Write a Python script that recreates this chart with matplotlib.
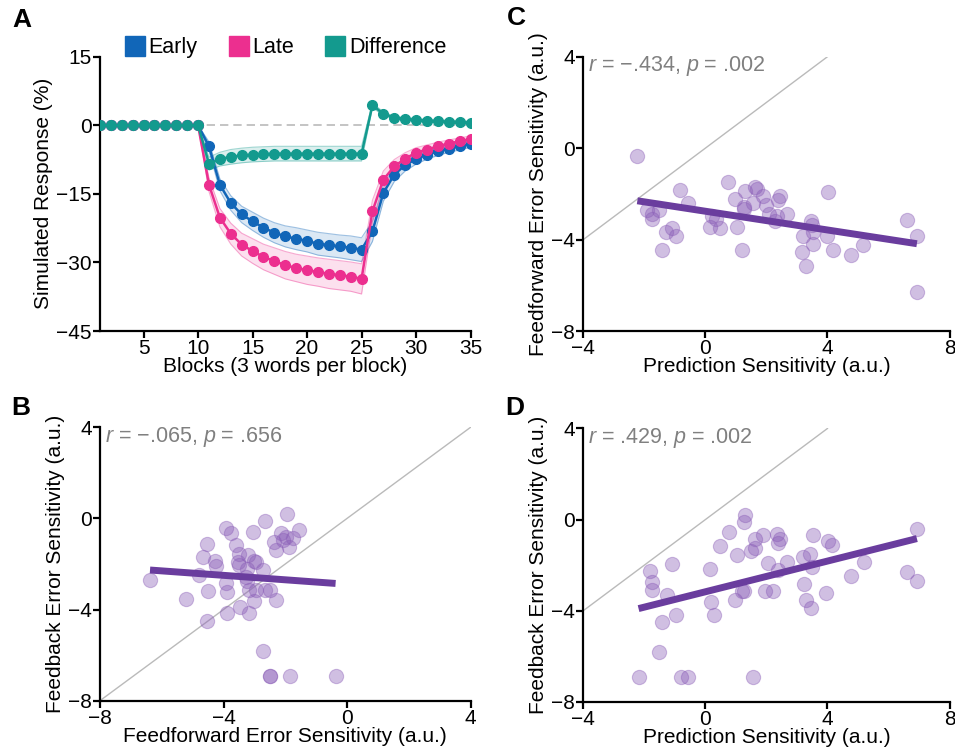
import numpy as np
import matplotlib
matplotlib.use('Agg')
import matplotlib.pyplot as plt
from matplotlib.lines import Line2D

plt.rcParams['font.family'] = ['Liberation Sans', 'DejaVu Sans']
plt.rcParams['mathtext.fontset'] = 'custom'
plt.rcParams['mathtext.rm'] = 'Liberation Sans'
plt.rcParams['mathtext.it'] = 'Liberation Sans:italic'
plt.rcParams['font.size'] = 15

# ---- panel A: simulated responses per block ----
blocks = np.arange(1, 36)
early = [0, 0, 0, 0, 0, 0, 0, 0, 0, 0,
         -4.6, -13.0, -17.0, -19.5, -21.0, -22.4, -23.5, -24.3, -24.8, -25.3,
         -25.9, -26.2, -26.5, -26.8, -27.2,
         -23.2, -14.8, -10.8, -8.7, -7.4, -6.4, -5.7, -5.1, -4.6, -4.1]
late = [0, 0, 0, 0, 0, 0, 0, 0, 0, 0,
        -13.0, -20.2, -23.7, -26.1, -27.5, -28.8, -29.7, -30.6, -31.2, -31.7,
        -32.1, -32.5, -32.8, -33.1, -33.6,
        -18.8, -11.9, -9.0, -7.3, -6.0, -5.3, -4.6, -4.0, -3.5, -3.0]
difference = [0, 0, 0, 0, 0, 0, 0, 0, 0, 0,
              -8.4, -7.4, -6.9, -6.6, -6.4, -6.3, -6.2, -6.2, -6.2, -6.2,
              -6.2, -6.2, -6.2, -6.2, -6.2,
              4.4, 2.5, 1.7, 1.4, 1.2, 1.0, 0.9, 0.8, 0.7, 0.6]
# half-width of the shaded bands
early_hw = [0, 0, 0, 0, 0, 0, 0, 0, 0, 0,
            1.0, 1.3, 1.6, 1.8, 2.0, 2.1, 2.2, 2.3, 2.4, 2.4,
            2.5, 2.5, 2.5, 2.6, 2.6,
            2.2, 1.8, 1.5, 1.3, 1.1, 1.0, 0.9, 0.8, 0.8, 0.7]
late_hw = [0, 0, 0, 0, 0, 0, 0, 0, 0, 0,
           1.5, 2.0, 2.3, 2.5, 2.7, 2.8, 2.9, 3.0, 3.0, 3.1,
           3.1, 3.2, 3.2, 3.2, 3.3,
           2.4, 1.9, 1.5, 1.3, 1.1, 1.0, 0.9, 0.8, 0.7, 0.7]
diff_hw = [0, 0, 0, 0, 0, 0, 0, 0, 0, 0,
           1.4, 1.5, 1.6, 1.6, 1.6, 1.6, 1.6, 1.6, 1.6, 1.6,
           1.6, 1.6, 1.6, 1.6, 1.6,
           0.5, 0.4, 0.3, 0.3, 0.3, 0.3, 0.3, 0.3, 0.3, 0.3]

# ---- panel B: feedforward vs feedback error sensitivity ----
ff_b = [-6.38, -5.23, -4.80, -4.65, -4.54, -4.51, -4.54, -4.29, -4.24, -3.91,
        -3.75, -3.91, -3.88, -3.88, -3.59, -3.50, -3.53, -3.50, -3.45, -3.21,
        -3.24, -3.24, -3.18, -3.16, -3.03, -3.00, -2.94, -3.00, -2.96, -2.72,
        -2.67, -2.64, -2.72, -2.51, -2.49, -2.49, -2.29, -2.31, -2.15, -2.08,
        -1.95, -1.97, -1.88, -1.75, -1.56, -1.86, -0.37, -2.35, -3.26]
fb_b = [-2.71, -3.54, -2.49, -1.68, -1.13, -3.19, -4.49, -1.86, -2.08, -0.41,
        -0.66, -2.83, -3.25, -4.17, -1.17, -1.54, -1.93, -2.05, -3.88, -1.61,
        -2.23, -2.74, -3.15, -4.14, -0.59, -1.86, -1.93, -3.62, -3.12, -2.27,
        -0.10, -3.15, -5.81, -6.93, -6.93, -3.15, -3.56, -1.39, -0.66, -0.95,
        0.19, -0.81, -1.24, -0.88, -0.51, -6.93, -6.93, -1.02, -2.56]
fit_b = (-0.098, -2.89)
stat_b = '$\\it{r}$ = \u2212.065, $\\it{p}$ = .656'

# ---- panel C: prediction vs feedforward error sensitivity ----
pred_c = [-2.23, -1.90, -1.76, -1.74, -1.52, -1.43, -1.30, -1.09, -0.96, -0.82,
          -0.57, 0.16, 0.22, 0.35, 0.49, 0.74, 0.98, 1.03, 1.20, 1.25,
          1.27, 1.30, 1.55, 1.63, 1.68, 1.90, 1.98, 2.07, 2.28, 2.34,
          2.39, 2.45, 2.66, 3.17, 3.21, 3.29, 3.45, 3.48, 3.53, 3.53,
          3.97, 4.02, 4.18, 4.78, 5.18, 6.61, 6.93, 6.93]
ff_c = [-0.34, -2.70, -2.89, -3.10, -2.70, -4.45, -3.66, -3.51, -3.86, -1.82,
        -2.41, -3.44, -2.96, -3.10, -3.51, -1.47, -2.23, -3.44, -4.45, -2.59,
        -2.67, -1.87, -2.38, -1.72, -1.79, -2.08, -2.49, -2.89, -3.18, -2.96,
        -2.26, -2.08, -2.89, -4.56, -3.86, -5.15, -3.18, -3.37, -3.69, -4.20,
        -3.83, -1.90, -4.45, -4.68, -4.24, -3.15, -3.86, -6.31]
fit_c = (-0.205, -2.76)
stat_c = '$\\it{r}$ = \u2212.434, $\\it{p}$ = .002'

# ---- panel D: prediction vs feedback error sensitivity ----
pred_d = [-2.19, -1.82, -1.76, -1.74, -1.52, -1.43, -1.27, -1.11, -0.96, -0.81,
          -0.56, 0.16, 0.18, 0.27, 0.49, 0.76, 0.96, 1.03, 1.19, 1.27,
          1.27, 1.30, 1.50, 1.57, 1.61, 1.63, 1.90, 1.95, 2.06, 2.23,
          2.36, 2.37, 2.39, 2.44, 2.69, 3.20, 3.24, 3.29, 3.44, 3.47,
          3.50, 3.53, 3.96, 4.02, 4.15, 4.78, 5.19, 6.62, 6.93, 6.93]
fb_d = [-6.93, -2.27, -3.08, -2.74, -5.82, -4.50, -3.33, -1.93, -4.21, -6.93,
        -6.93, -2.15, -3.62, -4.18, -1.17, -0.54, -3.55, -1.57, -3.15, -3.12,
        -0.12, 0.22, -1.39, -6.93, -1.25, -0.84, -0.69, -3.15, -1.90, -3.15,
        -0.63, -2.20, -1.03, -0.84, -1.86, -1.66, -2.83, -3.52, -1.51, -3.88,
        -2.08, -0.69, -3.22, -0.92, -1.13, -2.49, -1.86, -2.30, -2.71, -0.41]
fit_d = (0.337, -3.17)
stat_d = '$\\it{r}$ = .429, $\\it{p}$ = .002'

C_EARLY = '#1166b8'
C_LATE = '#ec2f8f'
C_DIFF = '#139a8e'
C_DOT = '#8b5fb8'
C_FIT = '#6a3d9e'
C_GRAY = '#bababa'


def style_axes(ax):
    for side in ['top', 'right']:
        ax.spines[side].set_visible(False)
    for side in ['left', 'bottom']:
        ax.spines[side].set_linewidth(1.6)
    ax.tick_params(width=1.6, length=5, labelsize=15, pad=1)


fig = plt.figure(figsize=(9.55, 7.53), dpi=100)
axA = fig.add_axes([0.1047, 0.5604, 0.388, 0.3643])
axC = fig.add_axes([0.6108, 0.5604, 0.3835, 0.3643])
axB = fig.add_axes([0.1047, 0.0695, 0.388, 0.363])
axD = fig.add_axes([0.6108, 0.068, 0.3835, 0.363])

# panel A
axA.axhline(0, color=C_GRAY, lw=1.2, ls=(0, (5, 3)), zorder=1)
series = [(early, early_hw, C_EARLY, 'Early'),
          (late, late_hw, C_LATE, 'Late'),
          (difference, diff_hw, C_DIFF, 'Difference')]
for i, (vals, hw, col, lab) in enumerate(series):
    v = np.array(vals)
    h = np.array(hw)
    axA.fill_between(blocks, v - h, v + h, color=col, alpha=0.15, lw=0, zorder=2 + i)
    axA.plot(blocks, v - h, color=col, alpha=0.4, lw=0.8, zorder=2 + i)
    axA.plot(blocks, v + h, color=col, alpha=0.4, lw=0.8, zorder=2 + i)
    axA.plot(blocks, v, color=col, lw=1.8, marker='o', markersize=7, zorder=5 + i)
axA.set_xlim(1, 35)
axA.set_ylim(-45, 15)
axA.set_xticks([5, 10, 15, 20, 25, 30, 35])
axA.set_yticks([-45, -30, -15, 0, 15])
axA.set_xlabel('Blocks (3 words per block)', labelpad=-1)
axA.set_ylabel('Simulated Response (%)', labelpad=2)
style_axes(axA)
handles = [Line2D([], [], marker='s', ls='', color=c, markersize=15) for _, _, c, _ in series]
axA.legend(handles, [s[3] for s in series], loc='lower center', bbox_to_anchor=(0.5, 0.955),
           ncol=3, frameon=False, handletextpad=0.15, columnspacing=1.4, borderpad=0,
           handlelength=1.0, fontsize=15.5)


def scatter_panel(ax, x, y, fit, stat, xlim, xlabel, ylabel, diag):
    ax.plot(diag, diag, color=C_GRAY, lw=1.0, zorder=1)
    ax.scatter(x, y, s=105, color=C_DOT, alpha=0.4, edgecolors=C_DOT, linewidths=0.8, zorder=2)
    xs = np.array([min(x), max(x)])
    ax.plot(xs, fit[0] * xs + fit[1], color=C_FIT, lw=5, solid_capstyle='butt', zorder=3)
    ax.text(0.014, 0.965, stat, transform=ax.transAxes, color='#808080', fontsize=15.5,
            ha='left', va='center')
    ax.set_xlim(*xlim)
    ax.set_ylim(-8, 4)
    ax.set_xticks(np.arange(xlim[0], xlim[1] + 1, 4))
    ax.set_yticks([-8, -4, 0, 4])
    ax.set_xlabel(xlabel, labelpad=-1)
    ax.set_ylabel(ylabel, labelpad=2)
    style_axes(ax)


scatter_panel(axB, ff_b, fb_b, fit_b, stat_b, (-8, 4),
              'Feedforward Error Sensitivity (a.u.)', 'Feedback Error Sensitivity (a.u.)', [-8, 4])
scatter_panel(axC, pred_c, ff_c, fit_c, stat_c, (-4, 8),
              'Prediction Sensitivity (a.u.)', 'Feedforward Error Sensitivity (a.u.)', [-4, 4])
scatter_panel(axD, pred_d, fb_d, fit_d, stat_d, (-4, 8),
              'Prediction Sensitivity (a.u.)', 'Feedback Error Sensitivity (a.u.)', [-4, 4])

for lab, x, y in [('A', 0.013, 0.989), ('B', 0.012, 0.474), ('C', 0.531, 0.992), ('D', 0.529, 0.474)]:
    fig.text(x, y, lab, fontsize=19, fontweight='bold', ha='left', va='top')

fig.savefig('out.png', dpi=100)
